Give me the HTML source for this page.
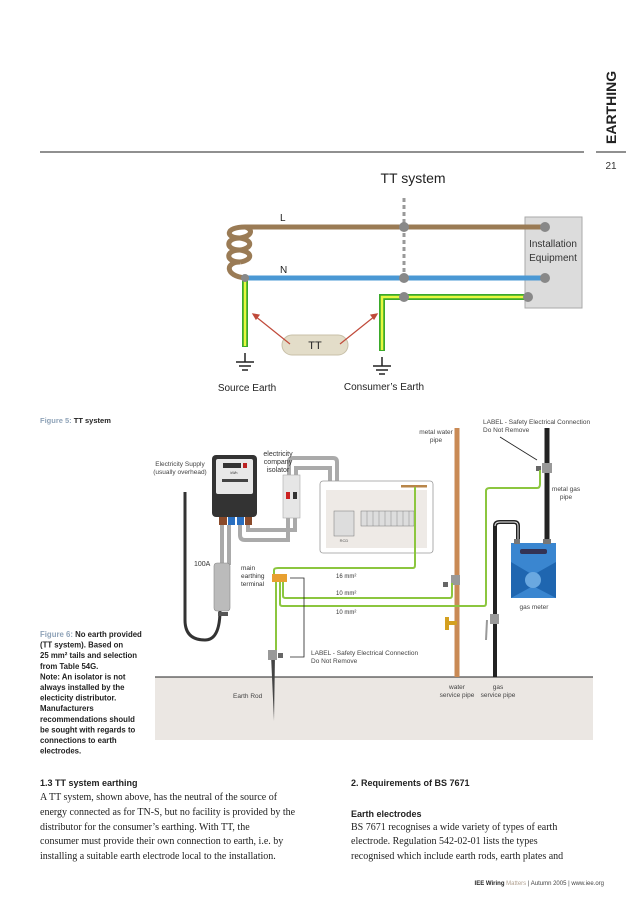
<!DOCTYPE html>
<html><head><meta charset="utf-8"><style>
html,body{margin:0;padding:0;background:#fff;}
svg{display:block;}
text{font-family:"Liberation Sans",sans-serif;}
.s{font-family:"Liberation Serif",serif;}
</style></head><body>
<svg width="638" height="903" viewBox="0 0 638 903" xmlns="http://www.w3.org/2000/svg">
<!-- header -->
<line x1="40" y1="152" x2="584" y2="152" stroke="#222" stroke-width="1"/>
<line x1="596" y1="152" x2="626" y2="152" stroke="#222" stroke-width="1"/>
<text x="611" y="169" font-size="10" text-anchor="middle" fill="#333">21</text>
<text transform="translate(616,144) rotate(-90)" font-size="14" font-weight="bold" fill="#222">EARTHING</text>

<!-- TT system diagram -->
<text x="413" y="183" font-size="14" text-anchor="middle" fill="#222">TT system</text>
<line x1="404" y1="198" x2="404" y2="282" stroke="#999" stroke-width="3" stroke-dasharray="4,3"/>
<rect x="525" y="217" width="57" height="91" fill="#dcdcdc" stroke="#aaa"/>
<text x="553" y="247" font-size="10" text-anchor="middle" fill="#333">Installation</text>
<text x="553" y="261" font-size="10" text-anchor="middle" fill="#333">Equipment</text>
<line x1="245" y1="227" x2="545" y2="227" stroke="#9a7b55" stroke-width="5"/>
<text x="280" y="221" font-size="10" fill="#222">L</text>
<path d="M245 227 C225 227 225 238 240 238 C225 238 225 250 240 250 C225 250 225 262 240 262 C225 262 225 276 245 278" fill="none" stroke="#9a7b55" stroke-width="5"/>
<path d="M245 227 C253 229 253 236 240 238 C253 240 253 248 240 250 C253 252 253 260 240 262" fill="none" stroke="#9a7b55" stroke-width="5"/>
<line x1="245" y1="278" x2="545" y2="278" stroke="#4a98d4" stroke-width="5"/>
<text x="280" y="273" font-size="10" fill="#222">N</text>
<line x1="245" y1="278" x2="245" y2="347" stroke="#3aaa2a" stroke-width="6"/>
<line x1="245" y1="281" x2="245" y2="346" stroke="#e8f840" stroke-width="2.5"/>
<path d="M382 351 L382 297 L528 297" fill="none" stroke="#3aaa2a" stroke-width="6"/>
<path d="M382 350 L382 297 L526 297" fill="none" stroke="#e8f840" stroke-width="2.5"/>
<g fill="#888">
<circle cx="404" cy="227" r="5"/><circle cx="404" cy="278" r="5"/><circle cx="545" cy="227" r="5"/><circle cx="545" cy="278" r="5"/><circle cx="528" cy="297" r="5"/><circle cx="404" cy="297" r="5"/><circle cx="245" cy="278" r="4"/>
</g>
<g stroke="#222" stroke-width="1.5">
<line x1="245" y1="353" x2="245" y2="362"/><line x1="236" y1="362" x2="254" y2="362"/><line x1="239" y1="366" x2="251" y2="366"/><line x1="242" y1="370" x2="248" y2="370"/>
<line x1="382" y1="357" x2="382" y2="366"/><line x1="373" y1="366" x2="391" y2="366"/><line x1="376" y1="370" x2="388" y2="370"/><line x1="379" y1="374" x2="385" y2="374"/>
</g>
<text x="247" y="391" font-size="10" text-anchor="middle" fill="#222">Source Earth</text>
<text x="384" y="390" font-size="10" text-anchor="middle" fill="#222">Consumer’s Earth</text>
<rect x="282" y="335" width="66" height="20" rx="10" fill="#e3ddc9" stroke="#c8c0a8"/>
<text x="315" y="349" font-size="11" text-anchor="middle" fill="#222">TT</text>
<g stroke="#c04a3a" stroke-width="1.2" fill="#c04a3a">
<line x1="290" y1="344" x2="255" y2="316"/><path d="M253 314 l6 1 l-3 4z"/>
<line x1="340" y1="344" x2="375" y2="316"/><path d="M377 314 l-6 1 l3 4z"/>
</g>

<text x="40" y="423" font-size="7.5" font-weight="bold" fill="#8fa3b8">Figure 5: <tspan fill="#222">TT system</tspan></text>

<!-- Figure 6 caption -->
<g font-size="7.8" font-weight="bold" fill="#222">
<text x="40" y="637"><tspan fill="#8fa3b8">Figure 6: </tspan>No earth provided</text>
<text x="40" y="647.6">(TT system). Based on</text>
<text x="40" y="658.2">25 mm² tails and selection</text>
<text x="40" y="668.8">from Table 54G.</text>
<text x="40" y="679.4">Note: An isolator is not</text>
<text x="40" y="690">always installed by the</text>
<text x="40" y="700.6">electicity distributor.</text>
<text x="40" y="711.2">Manufacturers</text>
<text x="40" y="721.8">recommendations should</text>
<text x="40" y="732.4">be sought with regards to</text>
<text x="40" y="743">connections to earth</text>
<text x="40" y="753.6">electrodes.</text>
</g>

<!-- lower diagram -->
<rect x="155" y="677" width="438" height="63" fill="#ebe7e3"/>
<line x1="155" y1="677" x2="593" y2="677" stroke="#222" stroke-width="1"/>
<text x="233" y="698" font-size="6.5" fill="#444">Earth Rod</text>
<text x="457" y="689" font-size="6.5" text-anchor="middle" fill="#444">water</text>
<text x="457" y="697" font-size="6.5" text-anchor="middle" fill="#444">service pipe</text>
<text x="498" y="689" font-size="6.5" text-anchor="middle" fill="#444">gas</text>
<text x="498" y="697" font-size="6.5" text-anchor="middle" fill="#444">service pipe</text>

<text x="180" y="466" font-size="6.5" text-anchor="middle" fill="#444">Electricity Supply</text>
<text x="180" y="474" font-size="6.5" text-anchor="middle" fill="#444">(usually overhead)</text>
<path d="M185 492 L185 620 Q185 640 205 640 Q220 640 220 610" fill="none" stroke="#333" stroke-width="3"/>
<!-- meter -->
<rect x="212" y="455" width="45" height="62" rx="4" fill="#333"/>
<rect x="216" y="459" width="37" height="35" rx="2" fill="#e8e8e8"/>
<rect x="223" y="463" width="18" height="5" fill="#333"/>
<rect x="243" y="463" width="4" height="5" fill="#b22"/>
<text x="234" y="474" font-size="3.5" text-anchor="middle" fill="#333">kWh</text>
<rect x="222" y="479" width="26" height="3" fill="#444"/>
<rect x="219" y="517" width="8" height="8" fill="#8a4a2a"/><rect x="228" y="517" width="7" height="8" fill="#2a6fc0"/><rect x="237" y="517" width="7" height="8" fill="#2a6fc0"/><rect x="245" y="517" width="7" height="8" fill="#8a4a2a"/>
<!-- tails -->
<g fill="none" stroke="#aaa" stroke-width="4">
<line x1="222" y1="525" x2="222" y2="565"/><line x1="229" y1="525" x2="229" y2="565"/>
<path d="M240 525 L240 535 Q240 540 245 540 L288 540 L288 518"/>
<path d="M248 525 L248 530 L295 530 L295 518"/>
<path d="M289 476 L289 462 Q289 458 293 458 L333 458 Q337 458 337 462 L337 510"/>
<path d="M296 476 L296 468 L330 468 L330 510"/>
</g>
<rect x="214" y="563" width="16" height="48" rx="3" fill="#bbb" stroke="#888" stroke-width="0.6"/>
<rect x="218" y="612" width="10" height="4" fill="#555"/>
<text x="194" y="566" font-size="7" fill="#333">100A</text>
<!-- isolator -->
<rect x="283" y="475" width="17" height="43" fill="#e6e6e6" stroke="#aaa" stroke-width="0.6"/>
<rect x="286" y="492" width="4" height="7" fill="#c22"/><rect x="293" y="492" width="4" height="7" fill="#333"/>
<text x="278" y="456" font-size="7" text-anchor="middle" fill="#333">electricity</text>
<text x="278" y="464" font-size="7" text-anchor="middle" fill="#333">company</text>
<text x="278" y="472" font-size="7" text-anchor="middle" fill="#333">isolator</text>
<!-- consumer unit -->
<rect x="320" y="481" width="113" height="72" rx="3" fill="#fff" stroke="#999" stroke-width="0.8"/>
<rect x="326" y="490" width="101" height="58" fill="#eeeae6"/>
<rect x="334" y="511" width="20" height="25" fill="#ddd" stroke="#777" stroke-width="0.5"/>
<rect x="361" y="511" width="53" height="15" fill="#ddd" stroke="#777" stroke-width="0.5"/>
<g stroke="#888" stroke-width="0.5"><line x1="367" y1="511" x2="367" y2="526"/><line x1="373" y1="511" x2="373" y2="526"/><line x1="379" y1="511" x2="379" y2="526"/><line x1="385" y1="511" x2="385" y2="526"/><line x1="391" y1="511" x2="391" y2="526"/><line x1="397" y1="511" x2="397" y2="526"/><line x1="403" y1="511" x2="403" y2="526"/><line x1="409" y1="511" x2="409" y2="526"/></g>
<text x="344" y="542" font-size="4" text-anchor="middle" fill="#555">RCD</text>
<rect x="401" y="485" width="26" height="2.5" fill="#b8864a"/>
<!-- pipes -->
<line x1="457" y1="428" x2="457" y2="677" stroke="#c98a55" stroke-width="5"/>
<text x="436" y="434" font-size="6.5" text-anchor="middle" fill="#444">metal water</text>
<text x="436" y="442" font-size="6.5" text-anchor="middle" fill="#444">pipe</text>
<rect x="451" y="575" width="9" height="10" fill="#999"/>
<rect x="443" y="582" width="5" height="5" fill="#666"/>
<path d="M447 617 L447 630 M447 623 L457 623" stroke="#d4a020" stroke-width="4" fill="none"/>
<line x1="547" y1="428" x2="547" y2="543" stroke="#222" stroke-width="5"/>
<rect x="542" y="463" width="10" height="10" fill="#999"/>
<rect x="536" y="466" width="5" height="5" fill="#666"/>
<text x="566" y="491" font-size="6.5" text-anchor="middle" fill="#444">metal gas</text>
<text x="566" y="499" font-size="6.5" text-anchor="middle" fill="#444">pipe</text>
<path d="M495 677 L495 526 Q495 522 500 522 L514 522 Q518 522 518 526 L518 543" fill="none" stroke="#222" stroke-width="4"/>
<path d="M495 526 Q495 522 500 522 L514 522 Q518 522 518 526 L518 543" fill="none" stroke="#eee" stroke-width="1"/>
<rect x="490" y="614" width="9" height="10" fill="#999"/>
<line x1="487" y1="620" x2="486" y2="640" stroke="#999" stroke-width="2"/>
<rect x="511" y="543" width="45" height="55" fill="#3a86d0"/>
<path d="M511 562 L533 575 L556 562 L556 598 L533 586 L511 598Z" fill="#1f66b0"/>
<circle cx="533" cy="580" r="8" fill="#6aa8e0"/>
<rect x="520" y="549" width="27" height="5" rx="2" fill="#335"/>
<rect x="514" y="539" width="6" height="5" fill="#777"/><rect x="543" y="539" width="8" height="5" fill="#777"/>
<text x="534" y="609" font-size="6.5" text-anchor="middle" fill="#444">gas meter</text>
<text x="483" y="424" font-size="6.5" fill="#444">LABEL - Safety Electrical Connection</text>
<text x="483" y="432" font-size="6.5" fill="#444">Do Not Remove</text>
<line x1="500" y1="437" x2="537" y2="460" stroke="#222" stroke-width="0.8"/>
<!-- green wires -->
<g fill="none" stroke="#8cc63f" stroke-width="2">
<path d="M274 575 L274 570 Q274 568 278 568 L413 568 Q415 568 415 565 L415 487"/>
<path d="M283 580 L283 596 Q283 598 286 598 L450 598 Q452 598 452 595 L452 583"/>
<path d="M280 580 L280 604 Q280 606 283 606 L484 606 Q486 606 486 603 L486 491 Q486 488 490 488 L537 488 Q540 488 540 484 L540 470"/>
<path d="M276 580 L276 650"/>
</g>
<rect x="272" y="574" width="15" height="8" fill="#e8a030"/>
<text x="241" y="570" font-size="6.5" fill="#333">main</text>
<text x="241" y="578" font-size="6.5" fill="#333">earthing</text>
<text x="241" y="586" font-size="6.5" fill="#333">terminal</text>
<text x="336" y="578" font-size="6" fill="#333">16 mm²</text>
<text x="336" y="595" font-size="6" fill="#333">10 mm²</text>
<text x="336" y="614" font-size="6" fill="#333">10 mm²</text>
<path d="M290 578 L304 578 L304 657 L290 657" fill="none" stroke="#222" stroke-width="0.8"/>
<text x="311" y="655" font-size="6.5" fill="#444">LABEL - Safety Electrical Connection</text>
<text x="311" y="663" font-size="6.5" fill="#444">Do Not Remove</text>
<path d="M271 655 L275 655 L274 721 Z" fill="#444"/>
<rect x="268" y="650" width="9" height="10" fill="#999"/>
<rect x="278" y="653" width="5" height="5" fill="#666"/>

<!-- body text -->
<g font-size="9" fill="#222">
<text x="40" y="786" font-weight="bold">1.3  TT system earthing</text>
<text x="40" y="800" class="s" font-size="10">A TT system, shown above, has the neutral of the source of</text>
<text x="40" y="815" class="s" font-size="10">energy connected as for TN-S, but no facility is provided by the</text>
<text x="40" y="830" class="s" font-size="10">distributor for the consumer’s earthing. With TT, the</text>
<text x="40" y="844" class="s" font-size="10">consumer must provide their own connection to earth, i.e. by</text>
<text x="40" y="859" class="s" font-size="10">installing a suitable earth electrode local to the installation.</text>
<text x="351" y="786" font-weight="bold">2. Requirements of BS 7671</text>
<text x="351" y="817" font-weight="bold">Earth electrodes</text>
<text x="351" y="830" class="s" font-size="10">BS 7671 recognises a wide variety of types of earth</text>
<text x="351" y="844" class="s" font-size="10">electrode.  Regulation 542-02-01 lists the types</text>
<text x="351" y="859" class="s" font-size="10">recognised which include earth rods, earth plates and</text>
</g>
<text x="604" y="885" font-size="6" text-anchor="end" fill="#444"><tspan font-weight="bold" fill="#222">IEE Wiring </tspan><tspan fill="#b0a090">Matters</tspan> | Autumn 2005 | www.iee.org</text>
</svg>
</body></html>
